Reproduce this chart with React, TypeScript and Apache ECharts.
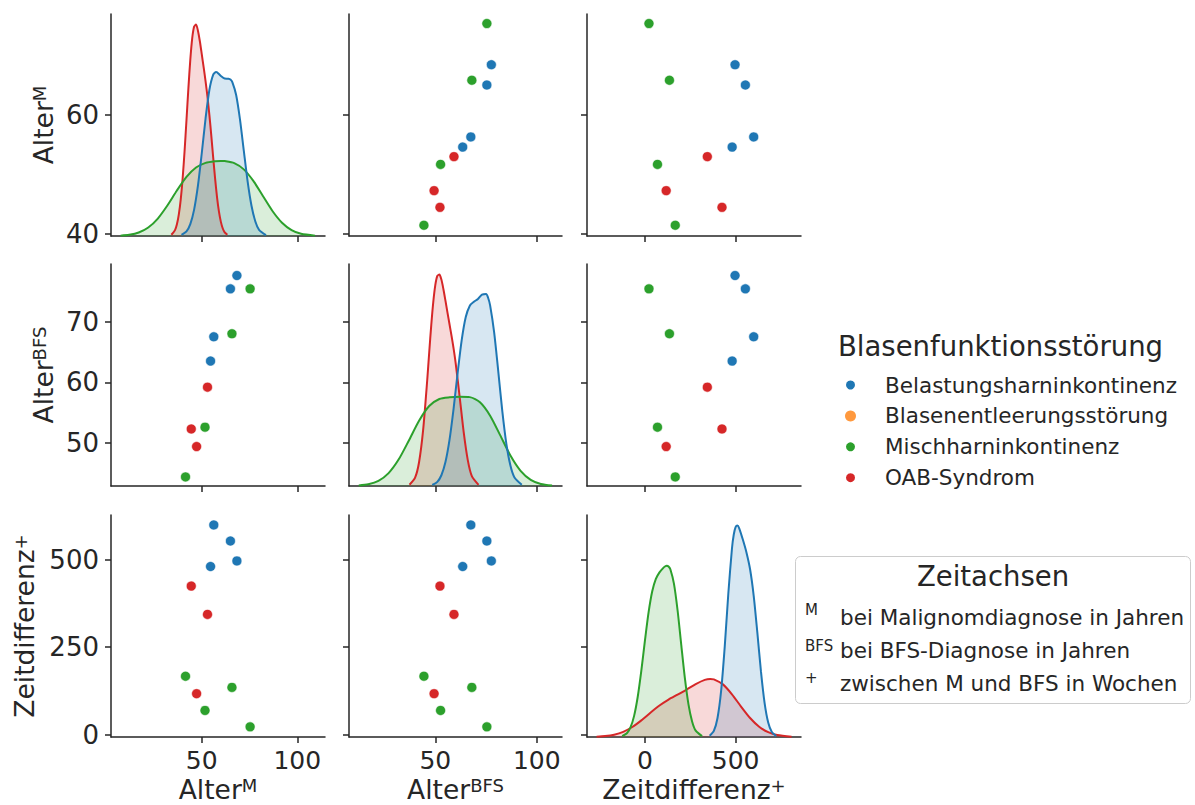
import React, { useEffect, useRef } from "react";
import * as echarts from "echarts";

// ---------- categories ----------
const groupNames = [
  "Belastungsharninkontinenz",
  "Blasenentleerungsstörung",
  "Mischharninkontinenz",
  "OAB-Syndrom",
];
const groupColors = ["#1f77b4", "#ff7f0e", "#2ca02c", "#d62728"];

// ---------- patients (one entry per patient) ----------
const pointGroup = [0, 0, 0, 0, 2, 2, 2, 2, 3, 3, 3];
const alterM = [68.4, 65.0, 56.3, 54.6, 75.3, 65.8, 51.7, 41.5, 53.0, 47.3, 44.5];
const alterBFS = [77.6, 75.4, 67.5, 63.5, 75.4, 68.0, 52.6, 44.4, 59.2, 49.4, 52.3];
const zeitdifferenz = [497, 554, 600, 481, 22, 135, 69, 167, 344, 117, 425];

// ---------- tick labels ----------
const ticksAlterM = [40, 60];
const ticksAlterBFS = [50, 60, 70];
const ticksZeit = [0, 250, 500];
const xTicksAlterM = [50, 100];
const xTicksAlterBFS = [50, 100];
const xTicksZeit = [0, 500];

// ---------- density curves on the diagonal ----------
const kdeAlterM_Belastung_x = [39.4, 42, 44, 46, 48, 50, 52, 54, 56, 57.5, 58, 60, 62, 64, 65, 66, 68, 70, 72, 74, 76, 78, 80, 83.6];
const kdeAlterM_Belastung_y = [0.000106, 0.000455, 0.00117, 0.0026, 0.00495, 0.00814, 0.01158, 0.01439, 0.01588, 0.01614, 0.01611, 0.01575, 0.01549, 0.01547, 0.01539, 0.01514, 0.01387, 0.01147, 0.0084, 0.00537, 0.003, 0.00145, 0.000606, 0.000087];
const kdeAlterM_Misch_x = [7.5, 12, 17, 22, 27, 32, 37, 42, 47, 52, 57, 60, 62, 67, 72, 77, 82, 87, 92, 97, 102, 109.3];
const kdeAlterM_Misch_y = [0.000037, 0.000115, 0.000339, 0.000833, 0.001718, 0.002998, 0.004476, 0.00581, 0.006733, 0.007194, 0.00736, 0.00739, 0.00737, 0.00717, 0.006554, 0.005418, 0.003935, 0.00246, 0.001307, 0.000584, 0.000219, 0.000037];
const kdeAlterM_OAB_x = [34.1, 36, 37, 38, 39, 40, 41, 42, 43, 44, 45, 46, 47, 48, 49, 50, 51, 52, 53, 54, 55, 56, 57, 58, 59, 60, 61, 62, 63.4];
const kdeAlterM_OAB_y = [0.00012, 0.00058, 0.00115, 0.00212, 0.0036, 0.00568, 0.00834, 0.01139, 0.01452, 0.01733, 0.01944, 0.0206, 0.0208, 0.0202, 0.01916, 0.01789, 0.01658, 0.01522, 0.01368, 0.0119, 0.00985, 0.00769, 0.00562, 0.00381, 0.00239, 0.00139, 0.00074, 0.00036, 0.00012];

const kdeAlterBFS_Belastung_x = [48.5, 51, 53, 55, 57, 59, 61, 63, 65, 67, 69, 71, 73, 75, 76, 77, 79, 81, 83, 85, 87, 89, 92.6];
const kdeAlterBFS_Belastung_y = [0.000088, 0.000357, 0.000919, 0.002046, 0.003942, 0.006598, 0.009657, 0.01247, 0.01445, 0.01542, 0.01575, 0.016, 0.01637, 0.01642, 0.0161, 0.01545, 0.01312, 0.00983, 0.006406, 0.00361, 0.00175, 0.00073, 0.000103];
const kdeAlterBFS_Misch_x = [12.3, 17, 22, 27, 32, 37, 42, 47, 52, 57, 62, 67, 72, 77, 82, 87, 92, 97, 102, 107.5];
const kdeAlterBFS_Misch_y = [0.000041, 0.000142, 0.000438, 0.001103, 0.00228, 0.003898, 0.005583, 0.00684, 0.007437, 0.007581, 0.007627, 0.0076, 0.00716, 0.006015, 0.004328, 0.002606, 0.001299, 0.00053, 0.000177, 0.000042];
const kdeAlterBFS_OAB_x = [37.3, 40, 42, 44, 46, 47, 48, 49, 50, 51, 52, 53, 54, 55, 56, 57, 58, 59, 60, 62, 64, 66, 68, 71.3];
const kdeAlterBFS_OAB_y = [0.00011, 0.000688, 0.00203, 0.00477, 0.009, 0.01142, 0.01374, 0.01573, 0.01718, 0.01797, 0.01808, 0.01765, 0.01683, 0.01585, 0.01483, 0.01383, 0.01284, 0.01177, 0.01055, 0.00763, 0.00458, 0.00221, 0.000843, 0.0001];

const kdeZeit_Belastung_x = [357, 380, 400, 420, 440, 460, 480, 490, 500, 510, 520, 540, 560, 580, 600, 620, 640, 660, 680, 700, 724];
const kdeZeit_Belastung_y = [0.0000125, 0.0000605, 0.000186, 0.000455, 0.000896, 0.001428, 0.001873, 0.002012, 0.002085, 0.002101, 0.002074, 0.001962, 0.001834, 0.001667, 0.001403, 0.001039, 0.000652, 0.000339, 0.000143, 0.000049, 0.0000099];
const kdeZeit_Misch_x = [-126, -100, -80, -60, -40, -20, 0, 20, 40, 60, 80, 100, 110, 120, 130, 140, 160, 180, 200, 220, 240, 260, 280, 315];
const kdeZeit_Misch_y = [0.0000085, 0.0000369, 0.0000949, 0.00021, 0.0004, 0.000662, 0.000962, 0.00124, 0.001448, 0.001571, 0.001636, 0.001678, 0.001694, 0.001702, 0.001695, 0.001667, 0.001522, 0.001257, 0.000919, 0.000587, 0.000325, 0.000155, 0.0000636, 0.0000092];
const kdeZeit_OAB_x = [-267, -220, -170, -120, -70, -20, 30, 80, 130, 180, 230, 280, 330, 360, 380, 430, 480, 530, 580, 630, 680, 730, 809];
const kdeZeit_OAB_y = [0.0000032, 0.0000089, 0.0000231, 0.0000516, 0.0000993, 0.0001655, 0.0002413, 0.0003129, 0.0003718, 0.0004211, 0.0004713, 0.0005251, 0.0005674, 0.0005765, 0.0005726, 0.000523, 0.0004244, 0.0003027, 0.0001886, 0.0001022, 0.0000482, 0.0000197, 0.0000036];

// ---------- legend texts ----------
const legendTitle = "Blasenfunktionsstörung";
const noteTitle = "Zeitachsen";
const noteMarks = ["M", "BFS", "+"];
const noteTexts = [
  "bei Malignomdiagnose in Jahren",
  "bei BFS-Diagnose in Jahren",
  "zwischen M und BFS in Wochen",
];

const FONT = "DejaVu Sans";
const INK = "#262626";

function rgba(hex: string, a: number) {
  const n = parseInt(hex.slice(1), 16);
  return `rgba(${(n >> 16) & 255},${(n >> 8) & 255},${n & 255},${a})`;
}

function zip(xs: number[], ys: number[]) {
  return xs.map((x, i) => [x, ys[i]]);
}

function buildOption() {
  const vars = [alterM, alterBFS, zeitdifferenz];
  const axisNames = ["{a|Alter}{s|M}", "{a|Alter}{s|BFS}", "{a|Zeitdifferenz}{s|+}"];
  const rowTicks = [ticksAlterM, ticksAlterBFS, ticksZeit];
  const colTicks = [xTicksAlterM, xTicksAlterBFS, xTicksZeit];
  const colRange = [[2.5, 114.5], [7.5, 112.4], [-320, 861]];
  const rowRange = [[39.7, 76.9], [42.9, 79.5], [-7, 628.5]];
  const gridLeft = [111, 349, 587];
  const gridWidth = [214, 213, 214];
  const gridTop = [14, 264, 515];
  const gridHeight = 222;
  const yNameGap = [55, 55, 74];

  // diagonal curves per column, per group index (0, 2, 3)
  const kde: Record<number, [number[], number[]]>[] = [
    {
      0: [kdeAlterM_Belastung_x, kdeAlterM_Belastung_y],
      2: [kdeAlterM_Misch_x, kdeAlterM_Misch_y],
      3: [kdeAlterM_OAB_x, kdeAlterM_OAB_y],
    },
    {
      0: [kdeAlterBFS_Belastung_x, kdeAlterBFS_Belastung_y],
      2: [kdeAlterBFS_Misch_x, kdeAlterBFS_Misch_y],
      3: [kdeAlterBFS_OAB_x, kdeAlterBFS_OAB_y],
    },
    {
      0: [kdeZeit_Belastung_x, kdeZeit_Belastung_y],
      2: [kdeZeit_Misch_x, kdeZeit_Misch_y],
      3: [kdeZeit_OAB_x, kdeZeit_OAB_y],
    },
  ];

  const richName = {
    a: { fontSize: 26.5, lineHeight: 26, fontFamily: FONT, color: INK },
    s: { fontSize: 18, lineHeight: 11, verticalAlign: "top", fontFamily: FONT, color: INK },
  };

  const grids: any[] = [];
  const xAxes: any[] = [];
  const yAxes: any[] = [];
  const scatterSeries: any[] = [];
  const lineSeries: any[] = [];

  const lineCommon = { color: INK, width: 1.5 };

  for (let r = 0; r < 3; r++) {
    for (let c = 0; c < 3; c++) {
      const g = r * 3 + c;
      grids.push({
        left: gridLeft[c],
        top: gridTop[r],
        width: gridWidth[c],
        height: gridHeight,
        containLabel: false,
        outerBoundsMode: "none",
      });
      xAxes.push({
        type: "value",
        gridIndex: g,
        min: colRange[c][0],
        max: colRange[c][1],
        axisLine: { show: true, onZero: false, lineStyle: lineCommon },
        axisTick: { show: true, length: 6, customValues: colTicks[c], lineStyle: lineCommon },
        axisLabel: {
          show: r === 2,
          customValues: colTicks[c],
          fontSize: 25,
          lineHeight: 22,
          fontFamily: FONT,
          color: INK,
          margin: 12.3,
        },
        splitLine: { show: false },
        name: r === 2 ? axisNames[c] : "",
        nameLocation: "middle",
        nameGap: 39.3,
        nameMoveOverlap: false,
        nameTextStyle: { fontSize: 26.5, fontFamily: FONT, color: INK, rich: richName },
      });
      yAxes.push({
        type: "value",
        gridIndex: g,
        min: rowRange[r][0],
        max: rowRange[r][1],
        axisLine: { show: true, onZero: false, lineStyle: lineCommon },
        axisTick: { show: true, length: 6, customValues: rowTicks[r], lineStyle: lineCommon },
        axisLabel: {
          show: c === 0,
          customValues: rowTicks[r],
          fontSize: 26,
          fontFamily: FONT,
          color: INK,
          margin: 12,
        },
        splitLine: { show: false },
        name: c === 0 ? axisNames[r] : "",
        nameLocation: "middle",
        nameGap: yNameGap[r],
        nameMoveOverlap: false,
        nameTextStyle: { fontSize: 26.5, fontFamily: FONT, color: INK, rich: richName },
      });

      if (r !== c) {
        [0, 2, 3].forEach((k) => {
          const data: number[][] = [];
          pointGroup.forEach((pg, i) => {
            if (pg === k) data.push([vars[c][i], vars[r][i]]);
          });
          scatterSeries.push({
            type: "scatter",
            name: groupNames[k],
            xAxisIndex: g,
            yAxisIndex: g,
            data,
            symbolSize: 10,
            silent: true,
            itemStyle: { color: groupColors[k], borderColor: "#ffffff", borderWidth: 0.6, opacity: 1 },
          });
        });
      }
    }
  }

  // hidden density axes for the diagonal panels
  for (let c = 0; c < 3; c++) {
    let peak = 0;
    [0, 2, 3].forEach((k) => {
      peak = Math.max(peak, ...kde[c][k][1]);
    });
    yAxes.push({
      type: "value",
      gridIndex: c * 3 + c,
      min: 0,
      max: peak * 1.05,
      show: false,
      splitLine: { show: false },
    });
    // drawing order: OAB, Misch, Belastung (last on top)
    [3, 2, 0].forEach((k) => {
      const [xs, ys] = kde[c][k];
      lineSeries.push({
        type: "line",
        name: groupNames[k],
        xAxisIndex: c * 3 + c,
        yAxisIndex: 9 + c,
        data: zip(xs, ys),
        smooth: 0.25,
        symbol: "none",
        showSymbol: false,
        silent: true,
        lineStyle: { color: groupColors[k], width: 2 },
        itemStyle: { color: groupColors[k] },
        areaStyle: { color: rgba(groupColors[k], 0.25) },
      });
    });
  }

  // category without observations (legend only)
  const emptySeries = {
    type: "scatter",
    name: groupNames[1],
    xAxisIndex: 1,
    yAxisIndex: 1,
    data: [],
    symbolSize: 10,
    itemStyle: { color: groupColors[1] },
  };

  const graphic: any[] = [
    {
      type: "text",
      x: 838,
      y: 346,
      style: {
        text: legendTitle,
        fontSize: 27.5,
        fontFamily: FONT,
        fill: INK,
        align: "left",
        verticalAlign: "middle",
      },
    },
    {
      type: "rect",
      shape: { x: 795.5, y: 556.5, width: 395, height: 147, r: 5 },
      style: { fill: "rgba(255,255,255,0.8)", stroke: "#cccccc", lineWidth: 1 },
    },
    {
      type: "text",
      x: 993,
      y: 576,
      style: {
        text: noteTitle,
        fontSize: 27.5,
        fontFamily: FONT,
        fill: INK,
        align: "center",
        verticalAlign: "middle",
      },
    },
  ];
  const markY = [610, 646, 678];
  const textY = [617, 650, 683];
  noteMarks.forEach((m, i) => {
    graphic.push({
      type: "text",
      x: 805,
      y: markY[i],
      style: { text: m, fontSize: 15, fontFamily: FONT, fill: INK, align: "left", verticalAlign: "middle" },
    });
    graphic.push({
      type: "text",
      x: 840,
      y: textY[i],
      style: {
        text: noteTexts[i],
        fontSize: 21.5,
        fontFamily: FONT,
        fill: INK,
        align: "left",
        verticalAlign: "middle",
      },
    });
  });

  return {
    animation: false,
    backgroundColor: "#ffffff",
    textStyle: { fontFamily: FONT },
    grid: grids,
    xAxis: xAxes,
    yAxis: yAxes,
    legend: {
      data: groupNames,
      orient: "vertical",
      left: 839,
      top: 369,
      icon: "circle",
      itemWidth: 11,
      itemHeight: 11,
      itemGap: 8.9,
      selectedMode: false,
      textStyle: {
        fontFamily: FONT,
        fontSize: 21.5,
        lineHeight: 20,
        color: INK,
        padding: [0, 0, 0, 24],
      },
    },
    series: [...scatterSeries, emptySeries, ...lineSeries],
    graphic,
  };
}

export default function App() {
  const ref = useRef<HTMLDivElement>(null);
  useEffect(() => {
    if (!ref.current) return;
    const chart = echarts.init(ref.current, undefined, { renderer: "svg" });
    chart.setOption(buildOption() as any);
    return () => {
      chart.dispose();
    };
  }, []);
  return (
    <div
      ref={ref}
      style={{ position: "absolute", left: 0, top: 0, width: 1195, height: 805, background: "#fff" }}
    />
  );
}
